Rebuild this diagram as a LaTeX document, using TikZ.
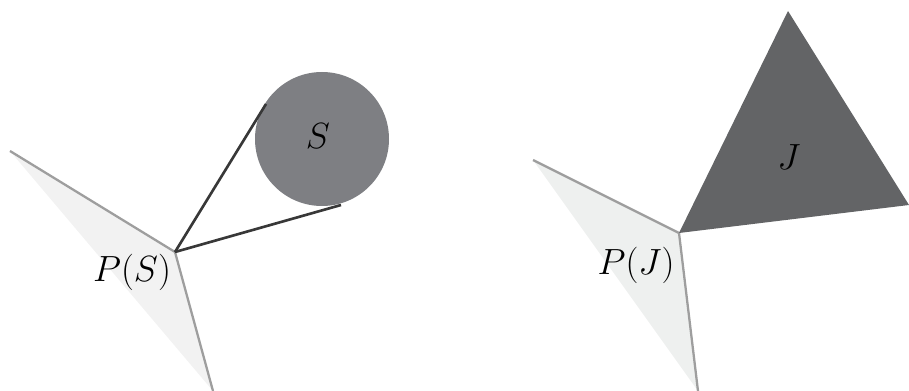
\documentclass[tikz,border=0pt]{standalone}
\begin{document}
\begin{tikzpicture}[x=0.02cm,y=-0.02cm,
  conefill/.style={fill=black!5,draw=none},
  coneedge/.style={draw=black!38,line width=1.3pt},
  tangent/.style={draw=black!78,line width=1.5pt},
  lbl/.style={font=\fontsize{20}{24}\selectfont,inner sep=0pt}]
\useasboundingbox (0,0) rectangle (909,391);
% left figure
\coordinate (lt) at (10,151);
\coordinate (la) at (175,252);
\coordinate (lb) at (213,391);
\fill[conefill] (lt) -- (la) -- (lb) -- cycle;
\draw[coneedge] (lt) -- (la) -- (lb);
\fill[fill={rgb,255:red,126;green,127;blue,131}] (322,139) circle (67);
\coordinate (t1) at (266,104);
\coordinate (t2) at (341,205);
\draw[tangent] (la) -- (t1);
\draw[tangent] (la) -- (t2);
\node[lbl] (S) at (318,136) {$S$};
\node[lbl] (PS) at (132,272) {$P(S)$};
% right figure
\coordinate (rt) at (533,160);
\coordinate (ra) at (679,233);
\coordinate (rb) at (698,391);
\fill[fill={rgb,255:red,238;green,240;blue,239}] (rt) -- (ra) -- (rb) -- cycle;
\draw[coneedge] (rt) -- (ra) -- (rb);
\coordinate (jt) at (788,11);
\coordinate (jr) at (909,205);
\fill[fill={rgb,255:red,99;green,100;blue,102}] (ra) -- (jt) -- (jr) -- cycle;
\node[lbl] (J) at (789,157) {$J$};
\node[lbl] (PJ) at (636,265) {$P(J)$};
\end{tikzpicture}
\end{document}
